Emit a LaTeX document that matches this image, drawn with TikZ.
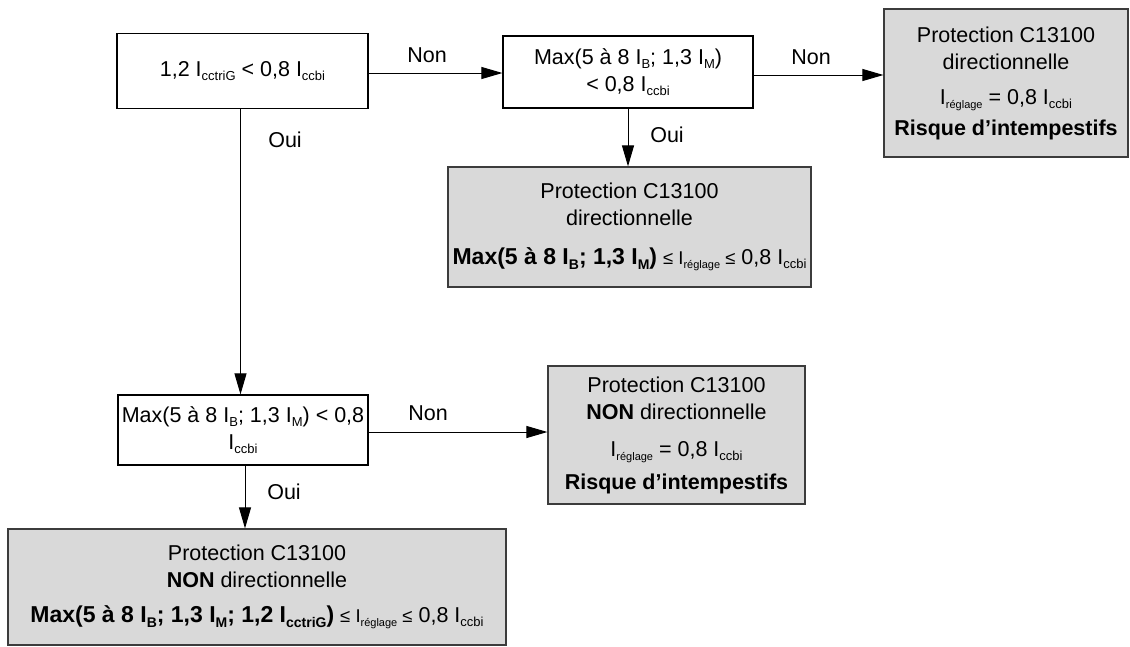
\documentclass[tikz,border=0pt]{standalone}
\usepackage{fontspec}
\setmainfont{Liberation Sans}
\usetikzlibrary{arrows.meta,calc}
\definecolor{boxgray}{RGB}{217,217,217}
\definecolor{edgegray}{RGB}{60,60,60}
\newcommand{\sbs}[1]{\raisebox{-4.5pt}{\fontsize{13}{13}\selectfont #1}}
\newcommand{\sbb}[1]{\raisebox{-5pt}{\fontsize{14}{14}\selectfont #1}}
\newcommand{\sbr}[1]{\raisebox{-4.5pt}{\fontsize{11}{11}\selectfont #1}}
\newcommand{\smallpart}[1]{{\fontsize{18.5}{18.5}\selectfont #1}}
\newcommand{\boldpart}[1]{{\fontsize{23}{23}\selectfont\bfseries #1}}
\begin{document}
\begin{tikzpicture}[x=1pt,y=-1pt,
  every node/.style={font=\fontsize{21.5}{27}\selectfont},
  testbox/.style={draw=black,line width=1.2pt,fill=white,align=center,inner sep=2pt},
  resbox/.style={draw=edgegray,line width=1.2pt,fill=boxgray,align=center,inner sep=2pt},
  lbl/.style={inner sep=0pt},
  arr/.style={line width=1pt,-{Triangle[length=21pt,width=12pt]}}]
\useasboundingbox (0,0) rectangle (1130,646);
% decision boxes
\node[testbox,minimum width=251pt,minimum height=75pt] (b1) at (242.5,71)
  {1,2 I\sbs{cctriG} < 0,8 I\sbs{ccbi}};
\node[testbox,minimum width=250pt,minimum height=72pt] (b2) at (628,72)
  {Max(5 à 8 I\sbs{B}; 1,3 I\sbs{M})\\< 0,8 I\sbs{ccbi}};
\node[testbox,minimum width=250pt,minimum height=70pt] (b5) at (243,430)
  {Max(5 à 8 I\sbs{B}; 1,3 I\sbs{M}) < 0,8\\I\sbs{ccbi}};
% result boxes
\node[resbox,minimum width=244pt,minimum height=148pt] (b3) at (1006,83)
  {Protection C13100\\directionnelle\\[8pt]I\sbr{réglage} = 0,8 I\sbs{ccbi}\\[4pt]\textbf{Risque d’intempestifs}};
\node[resbox,minimum width=363pt,minimum height=120pt] (b4) at (629.5,227)
  {Protection C13100\\directionnelle\\[12pt]\boldpart{Max(5 à 8 I\sbb{B}; 1,3 I\sbb{M})} \smallpart{≤ I\sbr{réglage} ≤} 0,8 I\sbs{ccbi}};
\node[resbox,minimum width=257pt,minimum height=138pt] (b6) at (676.5,435)
  {Protection C13100\\\textbf{NON} directionnelle\\[10pt]I\sbr{réglage} = 0,8 I\sbs{ccbi}\\[6pt]\textbf{Risque d’intempestifs}};
\node[resbox,minimum width=498pt,minimum height=116pt] (b7) at (257,587)
  {Protection C13100\\\textbf{NON} directionnelle\\[8pt]\boldpart{Max(5 à 8 I\sbb{B}; 1,3 I\sbb{M}; 1,2 I\sbb{cctriG})} \smallpart{≤ I\sbr{réglage} ≤} 0,8 I\sbs{ccbi}};
% connector anchor points
\coordinate (s1) at ($(b1.east)+(0,2)$);
\coordinate (s2) at ($(b2.east)+(0,3)$);
\coordinate (s3) at ($(b1.south)+(-2,0)$);
\coordinate (s4) at ($(b5.east)+(0,2)$);
\coordinate (s5) at ($(b5.south)+(2,0)$);
% connectors
\draw[arr] (s1) -- (s1 -| b2.west);
\draw[arr] (s2) -- (s2 -| b3.west);
\draw[arr] (b2.south) -- (b2.south |- b4.north);
\draw[arr] (s3) -- (s3 |- b5.north);
\draw[arr] (s4) -- (s4 -| b6.west);
\draw[arr] (s5) -- (s5 |- b7.north);
% labels
\node[lbl] (n1) at (427,55) {Non};
\node[lbl] (n2) at (811,57) {Non};
\node[lbl] (n3) at (428,413) {Non};
\node[lbl] (o1) at (667,135) {Oui};
\node[lbl] (o2) at (285,140) {Oui};
\node[lbl] (o3) at (284,492) {Oui};
\end{tikzpicture}
\end{document}
